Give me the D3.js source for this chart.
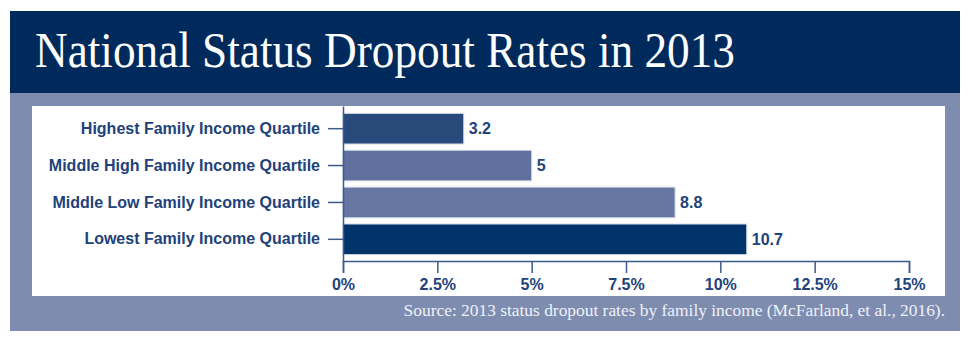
<!DOCTYPE html>
<html>
<head>
<meta charset="utf-8">
<script src="https://cdn.jsdelivr.net/npm/d3@7"></script>
<style>
  html, body { margin: 0; padding: 0; background: #fff; }
  svg { display: block; }
</style>
</head>
<body>
<main></main>
<script>
const quartiles = ["Highest Family Income Quartile", "Middle High Family Income Quartile",
    "Middle Low Family Income Quartile", "Lowest Family Income Quartile"]
const rates = [3.2, 5, 8.8, 10.7]
const barColors = ["#274a7b", "#60709f", "#6677a4", "#00336a"]
const xTicks = [0, 2.5, 5, 7.5, 10, 12.5, 15]
const title = "National Status Dropout Rates in 2013"
const source = "Source: 2013 status dropout rates by family income (McFarland, et al., 2016)."

const width = 970
const height = 346
const navy = "#002a5c"
const frame = "#7e8cb0"
const ink = "#21427a"
const sans = "'Liberation Sans', Arial, sans-serif"
const serif = "'Liberation Serif', 'DejaVu Serif', serif"

let svg = d3.select("main")
    .append("svg")
    .attr("width", width)
    .attr("height", height)

// title band, outer frame and white plot panel
svg.append("rect").attr("x", 10).attr("y", 11).attr("width", 950).attr("height", 82).attr("fill", navy)
svg.append("rect").attr("x", 10).attr("y", 93).attr("width", 950).attr("height", 238).attr("fill", frame)
svg.append("rect").attr("x", 32).attr("y", 106).attr("width", 913).attr("height", 190).attr("fill", "#fff")

svg.append("text")
    .attr("x", 35)
    .attr("y", 67)
    .attr("fill", "#fff")
    .attr("font-family", serif)
    .attr("font-size", 50)
    .attr("textLength", 700)
    .attr("lengthAdjust", "spacingAndGlyphs")
    .text(title)

svg.append("text")
    .attr("x", 945)
    .attr("y", 316)
    .attr("text-anchor", "end")
    .attr("fill", "#eef1f7")
    .attr("font-family", serif)
    .attr("font-size", 17.4)
    .text(source)

let x = d3.scaleLinear()
    .domain([0, 15])
    .range([343, 909])

let y = d3.scaleBand()
    .domain(quartiles)
    .range([106, 262])
    .paddingInner(0.17)
    .paddingOuter(0.2)

let color = d3.scaleOrdinal().domain(quartiles).range(barColors)

let data = quartiles.map((q, i) => ({ quartile: q, rate: rates[i] }))

svg.append("g")
    .selectAll("rect")
    .data(data)
    .enter()
    .append("rect")
    .attr("x", x(0))
    .attr("y", d => y(d.quartile))
    .attr("width", d => x(d.rate) - x(0))
    .attr("height", y.bandwidth())
    .attr("fill", d => color(d.quartile))
    .attr("stroke", "#d3d9e6")
    .attr("stroke-width", 1)

svg.append("g")
    .selectAll("text")
    .data(data)
    .enter()
    .append("text")
    .attr("x", d => x(d.rate) + 5)
    .attr("y", d => y(d.quartile) + y.bandwidth() / 2)
    .attr("dy", "0.35em")
    .attr("fill", ink)
    .attr("font-family", sans)
    .attr("font-weight", "bold")
    .attr("font-size", 16)
    .text(d => d.rate)

let yAxis = svg.append("g")
    .attr("transform", `translate(${x(0)}, 0)`)
    .call(d3.axisLeft(y).tickSizeInner(15).tickSizeOuter(0).tickPadding(8))

let xAxis = svg.append("g")
    .attr("transform", "translate(0, 261)")
    .call(d3.axisBottom(x).tickValues(xTicks).tickFormat(d => d + "%")
        .tickSizeInner(12).tickSizeOuter(12).tickPadding(6))

for (let ax of [yAxis, xAxis]) {
    ax.selectAll("path, line").attr("stroke", "#3c5a8c").attr("stroke-width", 1.5)
    ax.selectAll("text")
        .attr("fill", ink)
        .attr("font-family", sans)
        .attr("font-weight", "bold")
        .attr("font-size", 16)
}
</script>
</body>
</html>
